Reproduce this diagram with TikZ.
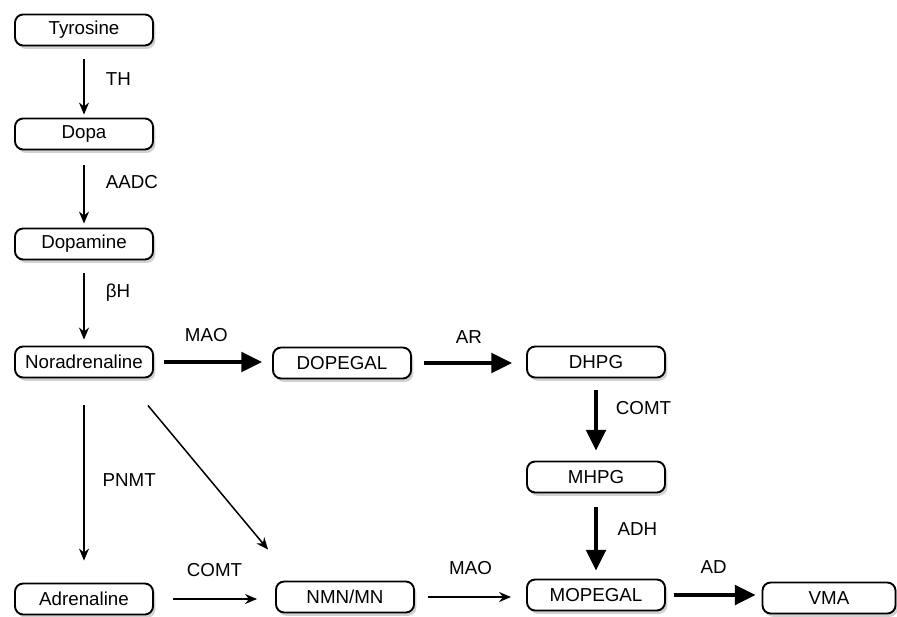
\documentclass[tikz,border=0pt]{standalone}
\usepackage{fontspec}
\setmainfont{Liberation Sans}
\usepackage{tikz}
\usetikzlibrary{positioning, arrows.meta, shadows}
\tikzset{
    chem box/.style={rectangle, rounded corners=7pt, draw=black, line width=1.6pt, fill=white, minimum width=4.14cm, minimum height=0.93cm, align=center, font=\fontsize{16}{18}\selectfont, drop shadow={opacity=0.35, shadow xshift=0.07cm, shadow yshift=-0.1cm}},
    thin step/.style={-{Stealth[length=0.36cm, width=0.3cm]}, line width=1.3pt},
    thick step/.style={-{Triangle[length=0.62cm, width=0.58cm]}, line width=3.6pt},
    enz/.style={font=\fontsize{16}{18}\selectfont, inner sep=1pt},
}
\begin{document}
\begin{tikzpicture}
\useasboundingbox[fill=white] (0,0) rectangle (26.91,-18.51);
% synthesis chain
\node[chem box] (tyr) at (2.52,-0.90) {Tyrosine};
\node[chem box] (dopa) at (2.52,-4.02) {Dopa};
\node[chem box] (dopamine) at (2.52,-7.32) {Dopamine};
\node[chem box] (nor) at (2.52,-10.86) {Noradrenaline};
\node[chem box] (adr) at (2.52,-17.97) {Adrenaline};
% breakdown
\node[chem box] (dopegal) at (10.26,-10.89) {DOPEGAL};
\node[chem box] (dhpg) at (17.88,-10.86) {DHPG};
\node[chem box] (mhpg) at (17.88,-14.31) {MHPG};
\node[chem box] (nmn) at (10.35,-17.91) {NMN/MN};
\node[chem box] (mopegal) at (17.88,-17.85) {MOPEGAL};
\node[chem box, minimum width=3.99cm] (vma) at (24.87,-17.94) {VMA};
% thin arrows
\draw[thin step, shorten <=0.39cm, shorten >=0.09cm] (tyr) -- (dopa) node[enz, midway, right=0.6cm, yshift=0.1cm] {TH};
\draw[thin step, shorten <=0.45cm, shorten >=0.12cm] (dopa) -- (dopamine) node[enz, midway, right=0.6cm, yshift=0.2cm] {AADC};
\draw[thin step, shorten <=0.39cm, shorten >=0.18cm] (dopamine) -- (nor) node[enz, midway, right=0.6cm, yshift=0.3cm] {βH};
\draw[thin step, shorten <=0.81cm, shorten >=0.66cm] (nor) -- (adr) node[enz, midway, right=0.5cm] {PNMT};
\draw[thin step] ([shift={(-0.18,-0.81)}]nor.south east) -- ([shift={(-0.21,0.93)}]nmn.north west);
\draw[thin step, shorten <=0.57cm, shorten >=0.54cm] (adr) -- (adr -| nmn.west) node[enz, midway, above=0.6cm] {COMT};
\draw[thin step, shorten <=0.39cm, shorten >=0.45cm] (nmn) -- (nmn -| mopegal.west) node[enz, midway, above=0.6cm] {MAO};
% thick arrows
\draw[thick step, shorten <=0.3cm, shorten >=0.3cm] (nor) -- (nor -| dopegal.west) node[enz, midway, above=0.5cm, xshift=-0.2cm] {MAO};
\draw[thick step, shorten <=0.36cm, shorten >=0.42cm] (dopegal) -- (dopegal -| dhpg.west) node[enz, midway, above=0.5cm] {AR};
\draw[thick step, shorten <=0.36cm, shorten >=0.3cm] (dhpg) -- (mhpg) node[enz, midway, right=0.5cm, yshift=0.35cm] {COMT};
\draw[thick step, shorten <=0.42cm, shorten >=0.24cm] (mhpg) -- (mopegal) node[enz, midway, right=0.55cm, yshift=0.2cm] {ADH};
\draw[thick step, shorten <=0.24cm, shorten >=0.18cm] (mopegal) -- (mopegal -| vma.west) node[enz, midway, above=0.55cm] {AD};
\end{tikzpicture}
\end{document}
